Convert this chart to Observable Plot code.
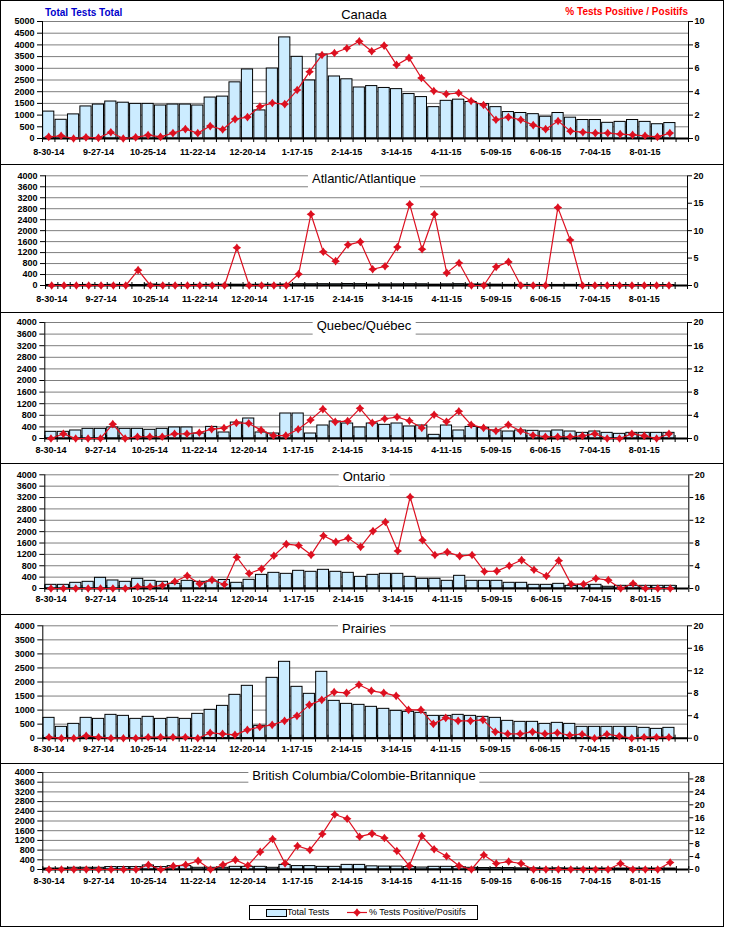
<!DOCTYPE html>
<html><head><meta charset="utf-8">
<script src="https://cdn.jsdelivr.net/npm/d3@7"></script>
<script src="https://cdn.jsdelivr.net/npm/@observablehq/plot@0.6"></script>
<style>
body{margin:0;background:#fff;font-family:"Liberation Sans",Arial,sans-serif;}
#root{position:relative;width:729px;height:927px;overflow:hidden;}
.svgwrap{position:absolute;left:0;width:724px;z-index:1}
.border{position:absolute;left:0;width:724px;border:1px solid #000;box-sizing:border-box;pointer-events:none;z-index:4}
.title{position:absolute;background:#fff;font-size:13px;line-height:18px;height:18px;text-align:center;z-index:3;white-space:nowrap;padding:0 4px;transform:translate(-50%,-50%);color:#000}
.lbl{position:absolute;font-size:10px;font-weight:bold;line-height:12px;white-space:nowrap;z-index:3;transform:translateY(-50%)}
</style></head><body><div id="root"></div>
<script>
const weeks = ["8-30-14","9-06-14","9-13-14","9-20-14","9-27-14","10-04-14","10-11-14","10-18-14","10-25-14","11-01-14","11-08-14","11-15-14","11-22-14","11-29-14","12-06-14","12-13-14","12-20-14","12-27-14","1-03-15","1-10-15","1-17-15","1-24-15","1-31-15","2-07-15","2-14-15","2-21-15","2-28-15","3-07-15","3-14-15","3-21-15","3-28-15","4-04-15","4-11-15","4-18-15","4-25-15","5-02-15","5-09-15","5-16-15","5-23-15","5-30-15","6-06-15","6-13-15","6-20-15","6-27-15","7-04-15","7-11-15","7-18-15","7-25-15","8-01-15","8-08-15","8-15-15","8-22-15"];

const canadaTests = [1150,800,1030,1370,1450,1580,1530,1480,1480,1410,1450,1450,1410,1750,1790,2400,2950,1200,2990,4320,3490,2480,3590,2650,2530,2180,2240,2160,2110,1900,1770,1340,1610,1660,1560,1470,1340,1130,1090,1040,930,1090,890,790,790,670,710,790,710,610,660];
const canadaPct = [0.14,0.23,0,0.1,0.05,0.54,0,0.1,0.29,0.14,0.46,0.8,0.46,1.06,0.77,1.66,1.83,2.74,3.03,2.94,4.14,5.71,7.14,7.31,7.71,8.31,7.46,7.94,6.29,6.89,5.17,4.06,3.8,3.89,3.2,2.86,1.6,1.83,1.6,1.14,0.8,1.49,0.63,0.54,0.46,0.46,0.37,0.31,0.23,0.14,0.46];

const atlanticTests = [20,15,18,22,20,25,20,18,35,25,22,20,24,28,30,29,26,30,28,35,48,46,49,45,54,50,34,40,43,47,45,31,43,49,38,36,30,23,25,22,20,21,24,20,18,17,19,16,15,14,16];
const atlanticPct = [0,0,0,0,0,0,0,2.8,0,0,0,0,0,0,0,6.87,0,0,0,0,2.07,13.0,6.14,4.44,7.42,7.96,2.96,3.5,7.0,14.8,6.6,13.0,2.3,4.1,0,0,3.4,4.3,0,0,0,14.2,8.3,0,0,0,0,0,0,0,0];

const quebecTests = [230,230,276,333,333,380,333,333,300,333,380,380,172,400,207,550,690,207,172,862,862,172,448,586,517,380,517,471,517,414,448,126,448,276,400,368,276,241,276,264,241,276,241,195,241,195,161,195,195,195,195];
const quebecPct = [0,0.8,0,0,0,2.47,0,0.3,0.3,0.3,0.8,0.8,1.0,1.6,1.8,2.7,2.6,1.44,0.5,0.5,1.6,3.2,5.06,2.87,3.0,5.2,2.7,3.4,3.7,3.05,1.8,4.1,2.9,4.7,2.36,1.84,1.3,2.36,1.3,0.57,0.3,0.3,0.3,0.46,0.8,0,0,0.8,0.46,0,0.8];

const ontarioTests = [129,129,200,235,375,282,235,340,270,235,164,270,235,250,300,200,305,480,551,516,622,587,657,587,551,410,480,516,516,410,340,340,270,446,270,270,270,200,200,129,129,164,94,129,129,60,94,94,94,94,94];
const ontarioPct = [0,0,0,0,0,0,0,0.3,0.3,0.53,1.23,2.23,0.82,1.52,0.7,5.5,2.64,3.46,5.75,7.8,7.57,5.92,9.27,8.2,8.86,7.33,10.1,11.7,6.6,16.1,8.5,5.9,6.4,5.7,5.9,3.0,3.05,4.0,5.0,3.3,2.2,4.9,0.76,0.76,1.76,1.47,0,0.88,0,0,0];

const prairiesTests = [724,404,510,724,688,831,795,688,760,688,724,688,866,1009,1151,1543,1864,439,2148,2718,1828,1579,2362,1329,1222,1187,1116,1045,973,938,902,795,795,831,795,760,724,617,582,582,510,546,510,404,404,404,404,404,368,332,368];
const prairiesPct = [0.18,0,0,0.42,0.18,0,0,0,0.18,0.18,0.18,0.18,0,0.95,0.77,0.6,1.48,2.0,2.37,3.09,3.98,5.93,6.82,8.2,8.07,9.5,8.43,8.07,7.54,5.04,5.04,2.55,3.62,3.09,3.09,3.26,1.13,0.77,0.77,1.13,0.77,0.95,0.53,0.71,0,0.71,0.36,0,0.18,0.18,0.18];

const bcTests = [40,40,70,70,70,100,100,100,165,100,140,140,70,70,70,110,110,110,70,190,140,140,110,110,190,190,130,120,120,100,80,110,110,100,70,60,60,60,50,50,40,50,40,40,40,40,40,40,40,40,40];
const bcPct = [0,0,0,0,0,0,0,0,1.44,0,1.03,1.44,2.67,0,1.44,2.97,1.23,5.44,9.44,1.85,7.28,6.05,11.0,17.0,15.7,10.15,11.1,9.74,5.74,1.13,10.36,6.26,4.1,1.13,0,4.5,1.85,2.46,1.85,0,0,0,0,0,0,0,1.85,0,0,0,2.15];

const regionNames = ["Canada","Atlantic/Atlantique","Quebec/Québec","Ontario","Prairies","British Columbia/Colombie-Britannique"];
const leftTitle = "Total Tests Total";
const rightTitle = "% Tests Positive / Positifs";
const legendBars = "Total Tests";
const legendLine = "% Tests Positive/Positifs";

const RED = "#DD1020";
const BLUE = "#CCECFF";

const star4 = {draw(ctx, size) {
  const r = Math.sqrt(size / Math.PI) ;
  const s = r * 0.42;
  ctx.moveTo(0, -r); ctx.lineTo(s, -s); ctx.lineTo(r, 0); ctx.lineTo(s, s);
  ctx.lineTo(0, r); ctx.lineTo(-s, s); ctx.lineTo(-r, 0); ctx.lineTo(-s, -s); ctx.closePath();
}};

const layout = [
  {top:0,   h:164, mt:21,   mb:26,   ml:42,   mr:36,   tests:canadaTests,   pct:canadaPct,   leftMax:5000, leftStep:500, rightMax:10, rightTicks:[0,2,4,6,8,10], titleY:15, pad:10, box:false, cross:false},
  {top:164, h:148, mt:11.3, mb:27,   ml:45,   mr:37,   tests:atlanticTests, pct:atlanticPct, leftMax:4000, leftStep:400, rightMax:20, rightTicks:[0,5,10,15,20], titleY:178.7, pad:10, box:true, cross:true},
  {top:312, h:151, mt:10,   mb:25,   ml:44.3, mr:37,   tests:quebecTests,   pct:quebecPct,   leftMax:4000, leftStep:400, rightMax:20, rightTicks:[0,4,8,12,16,20], titleY:326, pad:8.5, box:true, cross:true},
  {top:463, h:151, mt:11.3, mb:26,   ml:44.3, mr:35.7, tests:ontarioTests,  pct:ontarioPct,  leftMax:4000, leftStep:400, rightMax:20, rightTicks:[0,4,8,12,16,20], titleY:477, pad:7.5, box:true, cross:true},
  {top:614, h:149, mt:11.3, mb:25.3, ml:42.3, mr:37,   tests:prairiesTests, pct:prairiesPct, leftMax:4000, leftStep:500, rightMax:20, rightTicks:[0,4,8,12,16,20], titleY:628.7, pad:7.5, box:true, cross:true},
  {top:763, h:163, mt:9,    mb:57,   ml:42.3, mr:35.7, tests:bcTests,       pct:bcPct,       leftMax:4000, leftStep:400, rightMax:30, rightTicks:[0,4,8,12,16,20,24,28], titleY:776, pad:8.5, box:true, cross:true}
];

const root = document.getElementById("root");
const N = weeks.length;

layout.forEach((p, idx) => {
  const k = p.leftMax / p.rightMax;
  const rows = p.tests.map((t, i) => ({i, week: weeks[i], tests: t, pct: p.pct[i]}));
  const leftTicks = d3.range(0, p.leftMax + 1, p.leftStep);
  const chart = Plot.plot({
    width: 724, height: p.h,
    marginTop: p.mt, marginBottom: p.mb, marginLeft: p.ml, marginRight: p.mr,
    style: {background: "transparent", fontFamily: "Liberation Sans, Arial, sans-serif", fontSize: "9px", fontWeight: "bold", color: "#000", overflow: "visible"},
    x: {domain: [0, N], axis: null, label: null},
    y: {domain: [0, p.leftMax], axis: null, label: null},
    marks: [
      Plot.ruleY(leftTicks.slice(1), {stroke: "#7f7f7f", strokeWidth: 1}),
      Plot.rectY(rows, {x1: d => d.i + 0.05, x2: d => d.i + 0.95, y: "tests", fill: BLUE, stroke: "#000", strokeWidth: 1}),
      Plot.ruleX([0, N], {stroke: "#000", strokeWidth: 1}),
      Plot.axisY({ticks: leftTicks, tickFormat: d => String(d), tickSize: 5, tickPadding: 3, label: null}),
      Plot.axisY({anchor: "right", ticks: p.rightTicks.map(v => v * k), tickFormat: d => String(Math.round(d / k)), tickSize: 4, tickPadding: 2, label: null}),
      Plot.axisX({ticks: d3.range(0, N + 1), tickFormat: () => "", tickSize: p.cross ? 7 : 4, dy: p.cross ? -3 : 0, label: null}),
      Plot.axisX({ticks: d3.range(0.5, N, 4), tickFormat: d => weeks[Math.floor(d)], tickSize: 0, tickPadding: p.pad, label: null}),
      Plot.ruleY([0], {stroke: "#000", strokeWidth: 2}),
      Plot.line(rows, {x: d => d.i + 0.5, y: d => d.pct * k, stroke: RED, strokeWidth: 1.2}),
      Plot.dot(rows, {x: d => d.i + 0.5, y: d => d.pct * k, symbol: star4, r: 4.3, fill: RED, stroke: "none"})
    ]
  });
  const wrap = document.createElement("div");
  wrap.className = "svgwrap";
  wrap.style.top = p.top + "px";
  wrap.style.height = p.h + "px";
  wrap.appendChild(chart);
  root.appendChild(wrap);

  const b = document.createElement("div");
  b.className = "border";
  b.style.top = p.top + "px";
  b.style.height = (p.h + 1) + "px";
  root.appendChild(b);

  const t = document.createElement("div");
  t.className = "title";
  t.textContent = regionNames[idx];
  t.style.left = "364px";
  t.style.top = p.titleY + "px";
  if (!p.box) t.style.background = "transparent";
  root.appendChild(t);
});

// Canada axis titles
const lt = document.createElement("div");
lt.className = "lbl"; lt.textContent = leftTitle; lt.style.color = "#0000CC";
lt.style.left = "45px"; lt.style.top = "13px";
root.appendChild(lt);
const rt = document.createElement("div");
rt.className = "lbl"; rt.textContent = rightTitle; rt.style.color = "#FF0000";
rt.style.right = (729 - 688) + "px"; rt.style.top = "12px";
root.appendChild(rt);

// Legend
const lg = document.createElement("div");
lg.style.cssText = "position:absolute;left:249px;top:905px;width:229px;height:15px;border:1px solid #000;box-sizing:border-box;background:#fff;z-index:5;font-size:9px;line-height:13px;";
lg.innerHTML =
  '<div style="position:absolute;left:16px;top:3px;width:19px;height:6px;border:1px solid #000;background:' + BLUE + '"></div>' +
  '<div style="position:absolute;left:37px;top:0;white-space:nowrap">' + legendBars + '</div>' +
  '<svg style="position:absolute;left:97px;top:0" width="20" height="13"><line x1="0" y1="6.5" x2="20" y2="6.5" stroke="' + RED + '" stroke-width="1.2"/><path transform="translate(10,6.5)" d="M0,-4.3L1.8,-1.8L4.3,0L1.8,1.8L0,4.3L-1.8,1.8L-4.3,0L-1.8,-1.8Z" fill="' + RED + '"/></svg>' +
  '<div style="position:absolute;left:119px;top:0;white-space:nowrap">' + legendLine + '</div>';
root.appendChild(lg);
</script>
</body></html>
